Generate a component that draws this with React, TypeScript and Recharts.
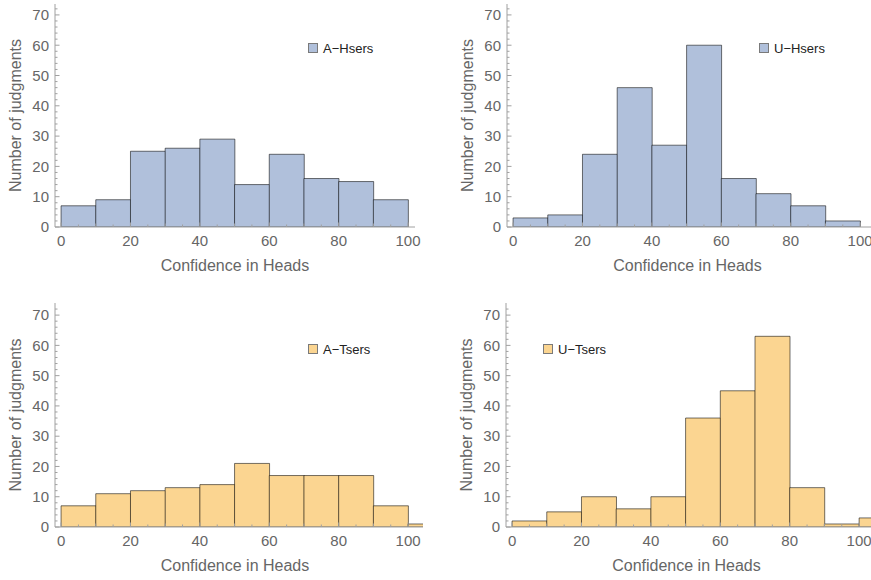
import { BarChart, Bar, XAxis, YAxis, Legend } from 'recharts';

// bin centres of the 10-wide histogram bins
const binCenters = [5, 15, 25, 35, 45, 55, 65, 75, 85, 95, 105];

const aHsers = [7, 9, 25, 26, 29, 14, 24, 16, 15, 9];
const uHsers = [3, 4, 24, 46, 27, 60, 16, 11, 7, 2];
const aTsers = [7, 11, 12, 13, 14, 21, 17, 17, 17, 7, 1];
const uTsers = [2, 5, 10, 6, 10, 36, 45, 63, 13, 1, 3];

const xTicks = [0, 5, 10, 15, 20, 25, 30, 35, 40, 45, 50, 55, 60, 65, 70, 75, 80, 85, 90, 95, 100];
const yTicks = [0, 2, 4, 6, 8, 10, 12, 14, 16, 18, 20, 22, 24, 26, 28, 30, 32, 34, 36, 38, 40, 42, 44, 46, 48, 50, 52, 54, 56, 58, 60, 62, 64, 66, 68, 70, 72];

const BLUE = '#b0c0db';
const ORANGE = '#fbd591';
const AXIS = '#a0a0a0';
const LABEL = '#666';
const FONT = '"Liberation Sans", Arial, sans-serif';

const toBins = (counts: number[]) => counts.map((count, i) => ({ bin: binCenters[i], count }));

function XTick({ x, y, payload }: any) {
  const v = payload.value;
  const len = v % 20 === 0 ? 4.5 : v % 10 === 0 ? 3.5 : 2.5;
  return (
    <g>
      <line x1={x} x2={x} y1={y} y2={y - len} stroke={AXIS} />
      {v % 20 === 0 && (
        <text x={x} y={y} dy={18.5} textAnchor="middle" fill={LABEL} fontSize={15} fontFamily={FONT}>
          {v}
        </text>
      )}
    </g>
  );
}

function YTick({ x, y, payload }: any) {
  const v = payload.value;
  const major = v % 10 === 0;
  return (
    <g>
      <line x1={x} x2={x + (major ? 4.5 : 2.5)} y1={y} y2={y} stroke={AXIS} />
      {major && (
        <text x={x - 6} y={y} dy={5.3} textAnchor="end" fill={LABEL} fontSize={15} fontFamily={FONT}>
          {v}
        </text>
      )}
    </g>
  );
}

interface PanelProps {
  name: string;
  counts: number[];
  color: string;
  left: number;
  top: number;
  marginTop: number;
  plotW: number;
  plotH: number;
  xMax: number;
  yMax: number;
  legendX: number;
  legendY: number;
  titleDx: number;
}

function Panel(p: PanelProps) {
  const width = 55 + p.plotW + 12;
  const height = p.marginTop + p.plotH + 44 + 6;
  return (
    <div style={{ position: 'absolute', left: p.left, top: p.top }}>
      <BarChart
        width={width}
        height={height}
        data={toBins(p.counts)}
        margin={{ top: p.marginTop, right: 12, left: 0, bottom: 6 }}
        barCategoryGap={0}
        barGap={0}
      >
        <Bar
          dataKey="count"
          name={p.name}
          fill={p.color}
          stroke="rgba(0,0,0,0.55)"
          strokeWidth={1}
          isAnimationActive={false}
        />
        <XAxis
          dataKey="bin"
          type="number"
          domain={[-1.75, p.xMax]}
          allowDataOverflow
          ticks={xTicks}
          interval={0}
          tick={<XTick />}
          tickLine={false}
          tickSize={0}
          tickMargin={0}
          height={44}
          axisLine={{ stroke: AXIS }}
          label={{
            value: 'Confidence in Heads',
            position: 'insideBottom',
            offset: 0,
            dx: p.titleDx,
            fill: LABEL,
            fontSize: 16,
            fontFamily: FONT,
          }}
        />
        <YAxis
          type="number"
          domain={[0, p.yMax]}
          allowDataOverflow
          ticks={yTicks}
          interval={0}
          tick={<YTick />}
          tickLine={false}
          tickSize={0}
          tickMargin={0}
          width={55}
          axisLine={{ stroke: AXIS }}
          label={{
            value: 'Number of judgments',
            angle: -90,
            position: 'insideLeft',
            offset: 15.5,
            fill: LABEL,
            fontSize: 16,
            fontFamily: FONT,
            style: { textAnchor: 'middle' },
          }}
        />
        <Legend
          layout="horizontal"
          verticalAlign="middle"
          wrapperStyle={{ left: p.legendX, top: p.legendY, width: 'auto', bottom: 'auto' }}
          content={() => (
            <div style={{ display: 'flex', alignItems: 'center', height: 10 }}>
              <span
                style={{
                  display: 'inline-block',
                  width: 10,
                  height: 10,
                  boxSizing: 'border-box',
                  background: p.color,
                  border: '1px solid #7a7a7a',
                }}
              />
              <span style={{ marginLeft: 5, fontSize: 13, color: '#222', fontFamily: FONT, whiteSpace: 'nowrap' }}>
                {p.name}
              </span>
            </div>
          )}
        />
      </BarChart>
    </div>
  );
}

export default function App() {
  return (
    <div style={{ position: 'relative', width: 871, height: 580, overflow: 'hidden', background: '#fff' }}>
      <style>{'body{margin:0}'}</style>
      <Panel name="A−Hsers" counts={aHsers} color={BLUE} left={0} top={0} marginTop={4} plotW={360} plotH={223}
        xMax={102} yMax={73.6} legendX={308} legendY={43} titleDx={0} />
      <Panel name="U−Hsers" counts={uHsers} color={BLUE} left={452} top={0} marginTop={4} plotW={367} plotH={223}
        xMax={104} yMax={73.6} legendX={307} legendY={43} titleDx={-3} />
      <Panel name="A−Tsers" counts={aTsers} color={ORANGE} left={0} top={298} marginTop={5} plotW={368} plotH={224}
        xMax={104.3} yMax={74} legendX={308} legendY={46} titleDx={-4} />
      <Panel name="U−Tsers" counts={uTsers} color={ORANGE} left={451} top={298} marginTop={5} plotW={367} plotH={224}
        xMax={104} yMax={74} legendX={92} legendY={46} titleDx={-3} />
    </div>
  );
}
